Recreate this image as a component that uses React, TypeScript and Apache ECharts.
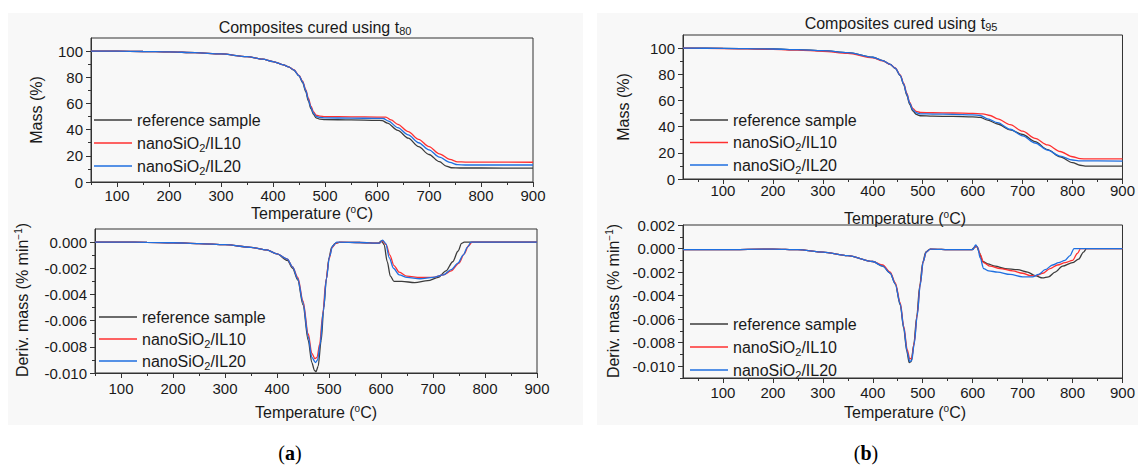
import React, { useEffect, useRef } from "react";
import * as echarts from "echarts";

const FONT = '"Liberation Sans", Arial, sans-serif';
const TXT = "#1a1a1a";
const AX = "#333333";

const NAMES = ["reference sample", "nanoSiO2/IL10", "nanoSiO2/IL20"];
const COLORS = ["#3c3c3c", "#ff3030", "#1f6fe0"];

const X_LABELS = [100, 200, 300, 400, 500, 600, 700, 800, 900];
const X_MINOR = [50, 150, 250, 350, 450, 550, 650, 750, 850];
const MASS_LABELS = [0, 20, 40, 60, 80, 100];
const MASS_MINOR = [10, 30, 50, 70, 90];
const DTG_A_LABELS = [-0.01, -0.008, -0.006, -0.004, -0.002, 0];
const DTG_A_MINOR = [-0.009, -0.007, -0.005, -0.003, -0.001];
const DTG_B_LABELS = [-0.01, -0.008, -0.006, -0.004, -0.002, 0, 0.002];
const DTG_B_MINOR = [-0.011, -0.009, -0.007, -0.005, -0.003, -0.001, 0.001];

// (a) t80 mass
const MASS80_REF = [[50,100],[100,99.9],[150,99.7],[200,99.4],[250,98.8],[300,97.8],[350,95.8],[380,93.8],[400,92],[420,89.5],[430,88],[440,85.5],[450,81],[457,76],[463,69],[468,62],[473,56],[478,51.5],[483,49],[490,48],[500,47.7],[550,47.4],[600,47.1],[610,46.9],[620,45],[640,39.5],[660,33.5],[680,27],[700,21],[720,15.5],[733,12.2],[743,10.9],[760,10.7],[800,10.7],[900,10.6]];
const MASS80_IL10 = [[50,100],[100,99.9],[150,99.7],[200,99.4],[250,98.8],[300,97.8],[350,95.8],[380,93.8],[400,92],[420,89.5],[430,88],[440,85.8],[450,81.5],[457,77],[463,70.5],[468,64],[473,58],[478,53.5],[483,51],[490,50.3],[500,50],[550,49.8],[600,49.6],[617,49.6],[627,47.5],[640,44],[660,38.5],[680,32.5],[700,27],[720,21.5],[740,17.3],[755,15.4],[770,15.2],[900,15.1]];
const MASS80_IL20 = [[50,100],[100,99.9],[150,99.7],[200,99.4],[250,98.8],[300,97.8],[350,95.8],[380,93.8],[400,92],[420,89.5],[430,88],[440,85.6],[450,81.2],[457,76.5],[463,70],[468,63],[473,57],[478,52.5],[483,50.2],[490,49.3],[500,49],[550,48.8],[600,48.6],[612,48.5],[622,46.5],[640,41.5],[660,36],[680,30],[700,24.5],[720,19],[740,15],[755,13.2],[770,13],[900,13]];

// (a) t80 derivative
const DTG80_REF = [[50,0],[100,0],[150,-0.00002],[200,-0.00005],[250,-0.00012],[300,-0.0002],[350,-0.0004],[380,-0.0006],[400,-0.0009],[420,-0.0014],[430,-0.002],[440,-0.0029],[450,-0.0048],[460,-0.0075],[467,-0.0092],[472,-0.0098],[475,-0.0099],[479,-0.0095],[485,-0.0075],[490,-0.005],[495,-0.0028],[500,-0.0012],[505,-0.0004],[512,-0.0001],[520,-0.00002],[560,-0.00003],[595,-0.00008],[601,0.0001],[606,-0.0002],[612,-0.0015],[618,-0.0026],[625,-0.003],[640,-0.003],[665,-0.0031],[690,-0.00295],[710,-0.0027],[725,-0.0022],[738,-0.0015],[748,-0.0007],[755,-0.0001],[760,0],[800,0],[900,0]];
const DTG80_IL10 = [[50,0],[100,0],[150,-0.00002],[200,-0.00005],[250,-0.00012],[300,-0.0002],[350,-0.0004],[380,-0.0006],[400,-0.0009],[420,-0.0013],[430,-0.0019],[440,-0.0027],[450,-0.0045],[460,-0.007],[467,-0.0085],[473,-0.0089],[477,-0.0088],[482,-0.0078],[488,-0.0055],[494,-0.003],[500,-0.0013],[506,-0.0004],[513,-0.0001],[520,0],[560,-0.00003],[597,-0.00008],[603,0.0001],[610,-0.0002],[617,-0.001],[625,-0.0018],[635,-0.0023],[650,-0.0026],[675,-0.0027],[700,-0.0027],[720,-0.0025],[735,-0.0022],[750,-0.0016],[760,-0.0009],[768,-0.0003],[775,0],[900,0]];
const DTG80_IL20 = [[50,0],[100,0],[150,-0.00002],[200,-0.00005],[250,-0.00012],[300,-0.0002],[350,-0.0004],[380,-0.0006],[400,-0.0009],[420,-0.0013],[430,-0.0019],[440,-0.0028],[450,-0.0046],[460,-0.0072],[467,-0.0088],[474,-0.0092],[478,-0.009],[483,-0.0078],[489,-0.0053],[495,-0.0028],[501,-0.0011],[507,-0.0003],[515,0],[560,-0.00003],[597,-0.00008],[603,0.00015],[609,-0.0001],[616,-0.0012],[624,-0.002],[635,-0.0025],[650,-0.0027],[675,-0.0028],[700,-0.0027],[720,-0.0025],[735,-0.0021],[748,-0.0016],[758,-0.001],[766,-0.0004],[773,0],[900,0]];

// (b) t95 mass
const MASS95_REF = [[20,100],[100,99.8],[200,99.3],[250,98.8],[300,98],[350,96.5],[400,93],[420,90.5],[435,87.5],[445,84.5],[455,79],[462,72],[468,64],[474,57],[480,52],[487,49.3],[495,48.3],[520,48],[560,47.8],[600,47.5],[615,47],[630,45],[650,42],[675,37.5],[700,34],[725,28.5],[750,22.5],[775,17],[800,12.5],[815,10.5],[825,9.8],[900,9.8]];
const MASS95_IL10 = [[20,100],[100,99.7],[200,99],[250,98.4],[300,97.6],[350,96],[400,92.6],[420,90.3],[435,87.5],[445,84.8],[455,79.5],[462,73],[468,65.5],[474,58.5],[480,54],[487,51.6],[495,50.8],[520,50.6],[560,50.4],[600,50.1],[620,49.8],[635,48.5],[650,46],[675,41.5],[700,36.5],[725,31],[750,26],[775,21],[800,17],[815,15.5],[830,15.3],[900,15.3]];
const MASS95_IL20 = [[20,100],[100,99.8],[200,99.3],[250,98.8],[300,98],[350,96.5],[400,93],[420,90.5],[435,87.5],[445,84.6],[455,79.2],[462,72.5],[468,65],[474,58],[480,53],[487,50.6],[495,49.8],[520,49.6],[560,49.4],[600,49],[615,48.5],[630,46],[650,43],[675,38],[700,33],[725,27.5],[750,22],[775,17.5],[800,14.5],[812,13.8],[900,13.7]];

// (b) t95 derivative
const DTG95_REF = [[20,-0.0001],[100,-0.0001],[200,-0.00005],[250,-0.0001],[300,-0.0003],[350,-0.0006],[400,-0.0011],[420,-0.0015],[435,-0.0021],[445,-0.003],[455,-0.0048],[462,-0.0068],[468,-0.0087],[473,-0.0097],[477,-0.0096],[482,-0.0082],[488,-0.0058],[494,-0.0032],[500,-0.0012],[506,-0.0003],[515,-0.00005],[560,-0.0001],[598,-0.0001],[604,0.0001],[608,0.0002],[613,-0.0003],[620,-0.0011],[630,-0.0013],[645,-0.0015],[665,-0.0017],[690,-0.0018],[710,-0.002],[725,-0.0023],[740,-0.0025],[752,-0.0024],[765,-0.002],[780,-0.0015],[800,-0.0012],[812,-0.0009],[822,-0.0003],[828,0],[900,0]];
const DTG95_IL10 = [[20,-0.0001],[100,-0.0001],[200,-0.00005],[250,-0.0001],[300,-0.0003],[350,-0.0006],[400,-0.0011],[420,-0.0014],[435,-0.002],[445,-0.0029],[455,-0.0046],[462,-0.0066],[469,-0.0086],[474,-0.0094],[478,-0.0093],[483,-0.008],[489,-0.0056],[495,-0.003],[501,-0.0011],[507,-0.0003],[515,-0.00005],[560,-0.0001],[600,-0.0001],[606,0.0002],[610,0.0001],[615,-0.0005],[622,-0.0012],[635,-0.0015],[655,-0.0017],[680,-0.0019],[700,-0.0021],[715,-0.0023],[728,-0.0023],[740,-0.0021],[755,-0.0017],[770,-0.0014],[785,-0.0012],[800,-0.001],[810,-0.0004],[816,0],[900,0]];
const DTG95_IL20 = [[20,-0.0001],[100,-0.0001],[200,-0.00005],[250,-0.0001],[300,-0.0003],[350,-0.0006],[400,-0.0011],[420,-0.0015],[435,-0.0021],[445,-0.003],[455,-0.0047],[462,-0.0067],[469,-0.0088],[474,-0.0096],[478,-0.0095],[483,-0.0081],[489,-0.0057],[495,-0.0031],[501,-0.0011],[507,-0.0003],[515,-0.00005],[560,-0.0001],[600,-0.0001],[606,0.0003],[610,0.0001],[615,-0.0008],[622,-0.0017],[632,-0.0019],[650,-0.002],[675,-0.0022],[700,-0.0024],[720,-0.0024],[732,-0.0022],[745,-0.0018],[760,-0.0014],[772,-0.0012],[785,-0.001],[795,-0.0006],[803,0],[900,0]];

const PANELS = [
  [MASS80_REF, MASS80_IL10, MASS80_IL20],
  [DTG80_REF, DTG80_IL10, DTG80_IL20],
  [MASS95_REF, MASS95_IL10, MASS95_IL20],
  [DTG95_REF, DTG95_IL10, DTG95_IL20],
];

const GRIDS = [
  { left: 91, top: 38, width: 442, height: 144 },
  { left: 95, top: 229, width: 442, height: 144 },
  { left: 683, top: 35, width: 444, height: 144 },
  { left: 683, top: 225, width: 444, height: 153 },
];
const X_MIN = [50, 50, 20, 20];
const X_MARGIN = [6, 8, 4, 7];
const Y_RANGE = [[0, 110], [-0.01, 0.001], [0, 110], [-0.011, 0.002]];
const Y_LABELS = [MASS_LABELS, DTG_A_LABELS, MASS_LABELS, DTG_B_LABELS];
const Y_MINOR = [MASS_MINOR, DTG_A_MINOR, MASS_MINOR, DTG_B_MINOR];
const LEGEND_POS = [
  { left: 94, top: 110, itemGap: 3 },
  { left: 99, top: 307, itemGap: 2 },
  { left: 690, top: 110, itemGap: 2.5 },
  { left: 690, top: 314, itemGap: 3 },
];

const RICH_G = {
  sub: { fontSize: 11, fontFamily: FONT, fill: TXT, verticalAlign: "bottom", padding: [8, 0, 0, 0] },
  sup: { fontSize: 10, fontFamily: FONT, fill: TXT, verticalAlign: "top", padding: [0, 0, 8, 0] },
};
const RICH_C = {
  sub: { fontSize: 11, fontFamily: FONT, color: TXT, verticalAlign: "bottom", lineHeight: 20, padding: [8, 0, 0, 0] },
};
const SERIF = '"Liberation Serif", serif';

function txt(text, x, y, opts = {}) {
  return {
    type: "text",
    x,
    y,
    rotation: opts.rotation || 0,
    z: 10,
    style: {
      text,
      fill: TXT,
      font: `${opts.weight || "normal"} ${opts.size || 16}px ${opts.family || FONT}`,
      align: "center",
      verticalAlign: "middle",
      rich: opts.rich || RICH_G,
    },
  };
}

function panelLabel(letter, x) {
  return {
    type: "text", x, y: 453, z: 10,
    style: {
      text: `({b|${letter}})`, fill: "#000", font: `20px ${SERIF}`, align: "center", verticalAlign: "middle",
      rich: { b: { fontSize: 20, fontWeight: "bold", fontFamily: SERIF, fill: "#000" } },
    },
  };
}

export default function App() {
  const ref = useRef(null);
  useEffect(() => {
    const chart = echarts.init(ref.current, null, { renderer: "svg" });
    const xAxis = [];
    const yAxis = [];
    for (let g = 0; g < 4; g++) {
      xAxis.push({
        type: "value", gridIndex: g, min: X_MIN[g], max: 900, position: "bottom",
        axisLine: { show: true, onZero: false, lineStyle: { color: AX, width: 1 } },
        axisTick: { show: true, inside: false, length: 5, customValues: X_LABELS, lineStyle: { color: AX } },
        axisLabel: { show: true, customValues: X_LABELS, margin: X_MARGIN[g], fontSize: 15, color: TXT, fontFamily: FONT },
        splitLine: { show: false },
      });
      yAxis.push({
        type: "value", gridIndex: g, min: Y_RANGE[g][0], max: Y_RANGE[g][1], position: "left",
        axisLine: { show: true, onZero: false, lineStyle: { color: AX, width: 1 } },
        axisTick: { show: true, inside: false, length: 5, customValues: Y_LABELS[g], lineStyle: { color: AX } },
        axisLabel: {
          show: true, customValues: Y_LABELS[g], margin: 8, fontSize: 15, color: TXT, fontFamily: FONT,
          formatter: g % 2 === 1 ? (v) => (Math.abs(v) < 1e-9 ? "0.000" : v.toFixed(3)) : (v) => String(Math.round(v)),
        },
        splitLine: { show: false },
      });
    }
    for (let g = 0; g < 4; g++) {
      xAxis.push({
        type: "value", gridIndex: g, min: X_MIN[g], max: 900, position: "bottom",
        axisLine: { show: false, onZero: false },
        axisTick: { show: true, inside: false, length: 3, customValues: X_MINOR, lineStyle: { color: AX } },
        axisLabel: { show: false },
        splitLine: { show: false },
      });
      yAxis.push({
        type: "value", gridIndex: g, min: Y_RANGE[g][0], max: Y_RANGE[g][1], position: "left",
        axisLine: { show: false, onZero: false },
        axisTick: { show: true, inside: false, length: 3, customValues: Y_MINOR[g], lineStyle: { color: AX } },
        axisLabel: { show: false },
        splitLine: { show: false },
      });
    }
    const series = [];
    PANELS.forEach((sets, g) => {
      sets.forEach((data, k) => {
        series.push({
          type: "line", name: NAMES[k], xAxisIndex: g, yAxisIndex: g, data,
          showSymbol: false, symbol: "none", smooth: 0.3, smoothMonotone: "x",
          lineStyle: { color: COLORS[k], width: 1.3 }, itemStyle: { color: COLORS[k] },
          z: 3 + k,
        });
      });
    });
    const legend = LEGEND_POS.map((p) => ({
      show: true, data: NAMES, orient: "vertical", left: p.left, top: p.top, itemGap: p.itemGap,
      icon: "rect", itemWidth: 38, itemHeight: 1.6, padding: 0, selectedMode: false,
      textStyle: { fontSize: 16, lineHeight: 20, fontFamily: FONT, color: TXT, rich: RICH_C },
      formatter: (n) => n.replace("SiO2", "SiO{sub|2}"),
    }));
    const graphic = [
      { type: "rect", z: -10, shape: { x: 8, y: 13, width: 575, height: 412 }, style: { fill: "#f8f8f8" } },
      { type: "rect", z: -10, shape: { x: 597, y: 13, width: 541, height: 412 }, style: { fill: "#f8f8f8" } },
      txt("Composites cured using t{sub|80}", 315, 27),
      txt("Composites cured using t{sub|95}", 901, 23),
      txt("Temperature ({sup|o}C)", 312, 213),
      txt("Temperature ({sup|o}C)", 316, 412),
      txt("Temperature ({sup|o}C)", 905, 218),
      txt("Temperature ({sup|o}C)", 905, 412),
      txt("Mass (%)", 36, 110, { rotation: Math.PI / 2 }),
      txt("Deriv. mass (% min{sup|−1})", 22, 300, { rotation: Math.PI / 2 }),
      txt("Mass (%)", 623, 107, { rotation: Math.PI / 2 }),
      txt("Deriv. mass (% min{sup|−1})", 613, 301, { rotation: Math.PI / 2 }),
      panelLabel("a", 290),
      panelLabel("b", 866),
    ];
    chart.setOption({
      animation: false,
      backgroundColor: "#ffffff",
      grid: GRIDS.map((g) => ({ ...g, show: true, borderColor: AX, borderWidth: 1, backgroundColor: "transparent", containLabel: false })),
      xAxis,
      yAxis,
      series,
      legend,
      graphic,
    });
    return () => chart.dispose();
  }, []);
  return <div ref={ref} style={{ position: "absolute", left: 0, top: 0, width: 1138, height: 470 }} />;
}
